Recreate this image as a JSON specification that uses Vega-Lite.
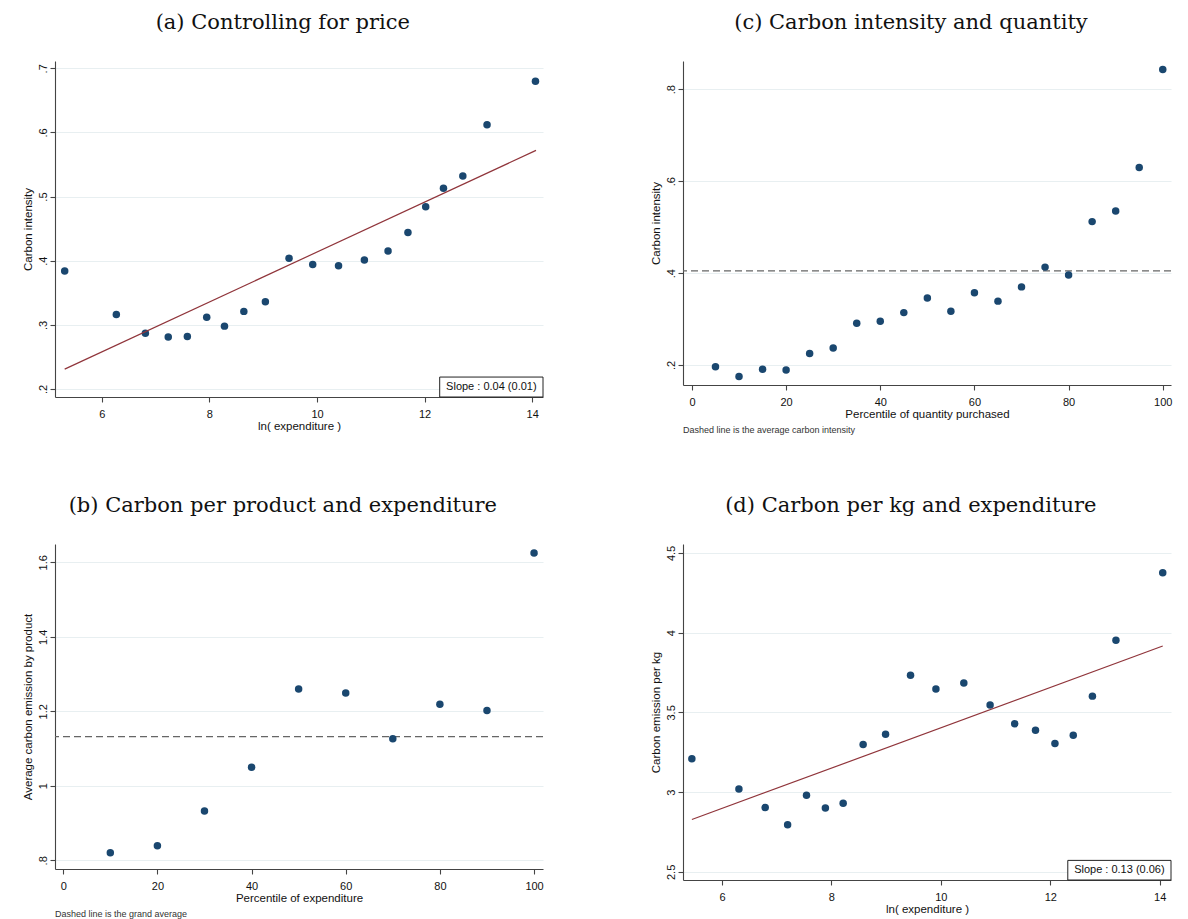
{
  "$schema": "https://vega.github.io/schema/vega-lite/v6.json",
  "background": "white",
  "padding": {"left": 22, "top": 12, "right": 5, "bottom": 0},
  "config": {
    "view": {"stroke": null},
    "axis": {
      "grid": false, "domainColor": "#444", "domainWidth": 1.1, "tickColor": "#444", "tickWidth": 1.1, "tickSize": 5,
      "labelFont": "Liberation Sans", "labelFontSize": 11, "labelColor": "#111",
      "titleFont": "Liberation Sans", "titleFontSize": 11.5, "titleFontWeight": "normal", "titleColor": "#111"
    },
    "axisX": {"labelPadding": 6, "titlePadding": 1, "labelExpr": "format(datum.value, '~g')"},
    "axisY": {"grid": true, "gridColor": "#e8eff1", "gridWidth": 1.2, "labelAngle": -90, "labelAlign": "center", "labelBaseline": "bottom", "labelPadding": 2, "titlePadding": 4,
      "labelExpr": "replace(format(datum.value, '.1~f'), '0.', '.')"},
    "title": {"font": "DejaVu Serif", "fontSize": 21, "fontWeight": "normal", "color": "#111", "offset": 28, "anchor": "middle", "frame": "bounds"}
  },
  "spacing": 60,
  "vconcat": [
    {
      "spacing": 106,
      "hconcat": [
        {
          "title": "(a) Controlling for price",
          "width": 488, "height": 336,
          "layer": [
            {
              "data": {"values": [
                {"x": 5.31, "y": 0.384}, {"x": 6.27, "y": 0.316}, {"x": 6.81, "y": 0.287}, {"x": 7.235, "y": 0.281},
                {"x": 7.59, "y": 0.282}, {"x": 7.95, "y": 0.312}, {"x": 8.28, "y": 0.298}, {"x": 8.64, "y": 0.321},
                {"x": 9.04, "y": 0.336}, {"x": 9.48, "y": 0.404}, {"x": 9.92, "y": 0.394}, {"x": 10.40, "y": 0.392},
                {"x": 10.88, "y": 0.401}, {"x": 11.32, "y": 0.415}, {"x": 11.69, "y": 0.444}, {"x": 12.02, "y": 0.484},
                {"x": 12.35, "y": 0.513}, {"x": 12.71, "y": 0.532}, {"x": 13.16, "y": 0.612}, {"x": 14.06, "y": 0.680}
              ]},
              "mark": {"type": "circle", "size": 56, "color": "#1a476f", "opacity": 1},
              "encoding": {
                "x": {"field": "x", "type": "quantitative", "scale": {"domain": [5.13, 14.2], "nice": false, "zero": false},
                  "axis": {"values": [6, 8, 10, 12, 14], "title": "ln( expenditure )"}},
                "y": {"field": "y", "type": "quantitative", "scale": {"domain": [0.1875, 0.7114], "nice": false, "zero": false},
                  "axis": {"values": [0.2, 0.3, 0.4, 0.5, 0.6, 0.7], "title": "Carbon intensity"}}
              }
            },
            {
              "data": {"values": [{"x": 5.31, "y": 0.231}, {"x": 14.07, "y": 0.572}]},
              "mark": {"type": "line", "color": "#90353b", "strokeWidth": 1.2},
              "encoding": {"x": {"field": "x", "type": "quantitative"}, "y": {"field": "y", "type": "quantitative"}}
            },
            {
              "data": {"values": [{"x1": 12.28, "x2": 14.2, "y1": 0.1875, "y2": 0.2186, "xc": 13.24, "yc": 0.2030, "label": "Slope : 0.04 (0.01)"}]},
              "layer": [
                {"mark": {"type": "rect", "fill": "white", "stroke": "#222", "strokeWidth": 1},
                 "encoding": {"x": {"field": "x1", "type": "quantitative"}, "x2": {"field": "x2"}, "y": {"field": "y1", "type": "quantitative"}, "y2": {"field": "y2"}}},
                {"mark": {"type": "text", "font": "Liberation Sans", "fontSize": 11, "color": "#111", "align": "center", "baseline": "middle"},
                 "encoding": {"x": {"field": "xc", "type": "quantitative"}, "y": {"field": "yc", "type": "quantitative"}, "text": {"field": "label"}}}
              ]
            }
          ]
        },
        {
          "title": "(c) Carbon intensity and quantity",
          "vconcat": [
            {
              "title": {"text": "Dashed line is the average carbon intensity", "orient": "bottom", "anchor": "start", "frame": "group", "font": "Liberation Sans", "fontSize": 9, "color": "#333", "offset": 6, "baseline": "top"},
              "width": 488, "height": 324,
              "layer": [
                {
                  "data": {"values": [{"avg": 0.405}]},
                  "mark": {"type": "rule", "color": "#666", "strokeWidth": 1.3, "strokeDash": [7, 4]},
                  "encoding": {"y": {"field": "avg", "type": "quantitative"}}
                },
                {
                  "data": {"values": [
                    {"p": 5, "y": 0.196}, {"p": 10, "y": 0.175}, {"p": 15, "y": 0.191}, {"p": 20, "y": 0.189},
                    {"p": 25, "y": 0.225}, {"p": 30, "y": 0.237}, {"p": 35, "y": 0.291}, {"p": 40, "y": 0.295},
                    {"p": 45, "y": 0.314}, {"p": 50, "y": 0.346}, {"p": 55, "y": 0.317}, {"p": 60, "y": 0.357},
                    {"p": 65, "y": 0.339}, {"p": 70, "y": 0.370}, {"p": 75, "y": 0.413}, {"p": 80, "y": 0.396},
                    {"p": 85, "y": 0.512}, {"p": 90, "y": 0.535}, {"p": 95, "y": 0.630}, {"p": 100, "y": 0.843}
                  ]},
                  "mark": {"type": "circle", "size": 56, "color": "#1a476f", "opacity": 1},
                  "encoding": {
                    "x": {"field": "p", "type": "quantitative", "scale": {"domain": [-1.9, 101.75], "nice": false, "zero": false},
                      "axis": {"values": [0, 20, 40, 60, 80, 100], "title": "Percentile of quantity purchased"}},
                    "y": {"field": "y", "type": "quantitative", "scale": {"domain": [0.1565, 0.8615], "nice": false, "zero": false},
                      "axis": {"values": [0.2, 0.4, 0.6, 0.8], "title": "Carbon intensity"}}
                  }
                }
              ]
            }
          ]
        }
      ]
    },
    {
      "spacing": 106,
      "hconcat": [
        {
          "title": "(b) Carbon per product and expenditure",
          "vconcat": [
            {
              "title": {"text": "Dashed line is the grand average", "orient": "bottom", "anchor": "start", "frame": "group", "font": "Liberation Sans", "fontSize": 9, "color": "#333", "offset": 6, "baseline": "top"},
              "width": 488, "height": 325,
              "layer": [
                {
                  "data": {"values": [{"avg": 1.132}]},
                  "mark": {"type": "rule", "color": "#666", "strokeWidth": 1.3, "strokeDash": [7, 4]},
                  "encoding": {"y": {"field": "avg", "type": "quantitative"}}
                },
                {
                  "data": {"values": [
                    {"p": 10, "y": 0.820}, {"p": 20, "y": 0.839}, {"p": 30, "y": 0.932}, {"p": 40, "y": 1.050},
                    {"p": 50, "y": 1.260}, {"p": 60, "y": 1.249}, {"p": 70, "y": 1.126}, {"p": 80, "y": 1.219},
                    {"p": 90, "y": 1.202}, {"p": 100, "y": 1.625}
                  ]},
                  "mark": {"type": "circle", "size": 56, "color": "#1a476f", "opacity": 1},
                  "encoding": {
                    "x": {"field": "p", "type": "quantitative", "scale": {"domain": [-1.75, 101.9], "nice": false, "zero": false},
                      "axis": {"values": [0, 20, 40, 60, 80, 100], "title": "Percentile of expenditure"}},
                    "y": {"field": "y", "type": "quantitative", "scale": {"domain": [0.7766, 1.649], "nice": false, "zero": false},
                      "axis": {"values": [0.8, 1, 1.2, 1.4, 1.6], "title": "Average carbon emission by product"}}
                  }
                }
              ]
            }
          ]
        },
        {
          "title": "(d) Carbon per kg and expenditure",
          "width": 488, "height": 336,
          "layer": [
            {
              "data": {"values": [
                {"x": 5.45, "y": 3.209}, {"x": 6.31, "y": 3.020}, {"x": 6.79, "y": 2.903}, {"x": 7.20, "y": 2.795},
                {"x": 7.545, "y": 2.980}, {"x": 7.89, "y": 2.901}, {"x": 8.215, "y": 2.930}, {"x": 8.58, "y": 3.298},
                {"x": 8.99, "y": 3.363}, {"x": 9.446, "y": 3.733}, {"x": 9.91, "y": 3.646}, {"x": 10.42, "y": 3.685},
                {"x": 10.90, "y": 3.546}, {"x": 11.35, "y": 3.429}, {"x": 11.73, "y": 3.388}, {"x": 12.085, "y": 3.305},
                {"x": 12.42, "y": 3.357}, {"x": 12.77, "y": 3.602}, {"x": 13.20, "y": 3.953}, {"x": 14.055, "y": 4.375}
              ]},
              "mark": {"type": "circle", "size": 56, "color": "#1a476f", "opacity": 1},
              "encoding": {
                "x": {"field": "x", "type": "quantitative", "scale": {"domain": [5.288, 14.206], "nice": false, "zero": false},
                  "axis": {"values": [6, 8, 10, 12, 14], "title": "ln( expenditure )"}},
                "y": {"field": "y", "type": "quantitative", "scale": {"domain": [2.449, 4.556], "nice": false, "zero": false},
                  "axis": {"values": [2.5, 3, 3.5, 4, 4.5], "title": "Carbon emission per kg"}}
              }
            },
            {
              "data": {"values": [{"x": 5.45, "y": 2.828}, {"x": 14.055, "y": 3.916}]},
              "mark": {"type": "line", "color": "#90353b", "strokeWidth": 1.2},
              "encoding": {"x": {"field": "x", "type": "quantitative"}, "y": {"field": "y", "type": "quantitative"}}
            },
            {
              "data": {"values": [{"x1": 12.32, "x2": 14.206, "y1": 2.449, "y2": 2.572, "xc": 13.263, "yc": 2.5105, "label": "Slope : 0.13 (0.06)"}]},
              "layer": [
                {"mark": {"type": "rect", "fill": "white", "stroke": "#222", "strokeWidth": 1},
                 "encoding": {"x": {"field": "x1", "type": "quantitative"}, "x2": {"field": "x2"}, "y": {"field": "y1", "type": "quantitative"}, "y2": {"field": "y2"}}},
                {"mark": {"type": "text", "font": "Liberation Sans", "fontSize": 11, "color": "#111", "align": "center", "baseline": "middle"},
                 "encoding": {"x": {"field": "xc", "type": "quantitative"}, "y": {"field": "yc", "type": "quantitative"}, "text": {"field": "label"}}}
              ]
            }
          ]
        }
      ]
    }
  ]
}
